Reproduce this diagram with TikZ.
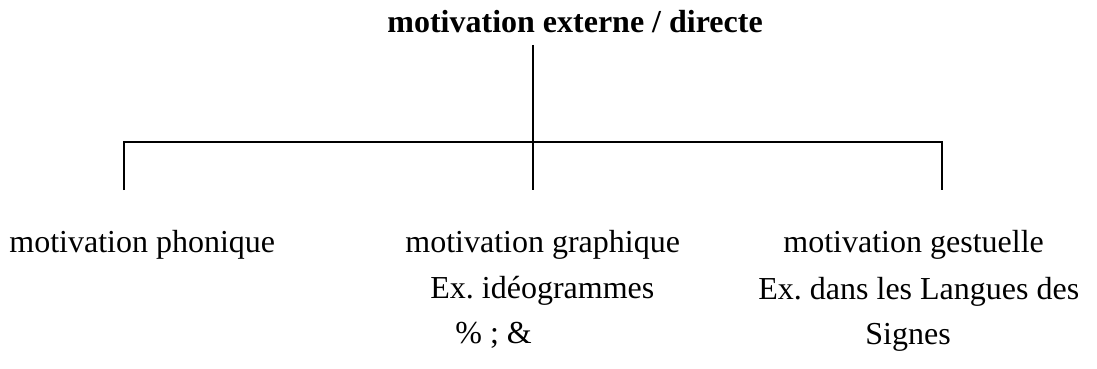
\documentclass[tikz,border=0pt]{standalone}
\usepackage{fontspec}
\setmainfont{Liberation Serif}
\frenchspacing
\begin{document}
\begin{tikzpicture}[x=0.5pt,y=-0.5pt,
  lbl/.style={inner sep=0pt,anchor=base west,font=\fontsize{16}{19}\selectfont},
  ttl/.style={lbl,font=\fontsize{16}{19}\selectfont\bfseries},
  conn/.style={line width=0.7pt,black}]
\useasboundingbox (0,0) rectangle (1097,369);
\node[ttl] (root) at (387,33) {motivation externe / directe};
\node[lbl] (phon) at (9,252) {motivation phonique};
\node[lbl] (graph) at (405,252) {motivation graphique};
\node[lbl] (gest) at (783,252) {motivation gestuelle};
\node[lbl] (ex1) at (430,298) {Ex. idéogrammes};
\node[lbl] (ex1b) at (455,343) {\% ; \&};
\node[lbl] (ex2) at (758,299) {Ex. dans les Langues des};
\node[lbl] (ex2b) at (865,344) {Signes};
\coordinate (top) at (533,45);
\coordinate (mid) at (533,142);
\coordinate (lb) at (124,142);
\coordinate (rb) at (942,142);
\coordinate (le) at (124,190);
\coordinate (me) at (533,190);
\coordinate (re) at (942,190);
\draw[conn] (top) -- (me);
\draw[conn] (le) -- (lb) -- (rb) -- (re);
\end{tikzpicture}
\end{document}
